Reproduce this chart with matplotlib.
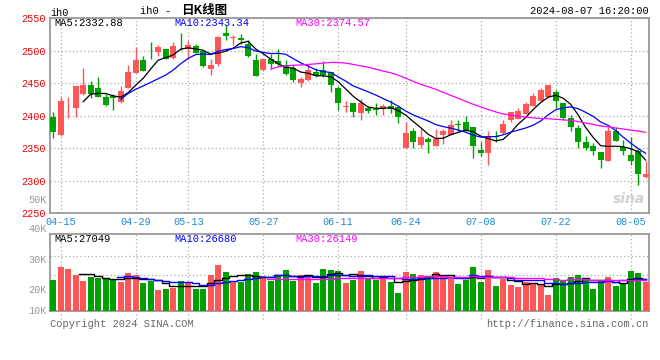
import numpy as np
import pandas as pd
import matplotlib
matplotlib.use("Agg")
import matplotlib.pyplot as plt

# daily bars of ih0, 2024-04-12 .. 2024-08-07 (80 trading days)
opens = [2398, 2371, 2416, 2412, 2434, 2447, 2443, 2429, 2430, 2421,
         2443, 2466, 2486, 2500, 2498, 2503, 2489, 2514, 2502, 2507,
         2499, 2472, 2479, 2527, 2520, 2520, 2511, 2486, 2470, 2487,
         2484, 2478, 2473, 2451, 2455, 2468, 2470, 2467, 2442, 2414,
         2419, 2404, 2412, 2410, 2410, 2415, 2413, 2351, 2377, 2355,
         2364, 2354, 2370, 2371, 2387, 2390, 2382, 2347, 2343, 2369,
         2373, 2393, 2395, 2403, 2415, 2423, 2429, 2436, 2420, 2396,
         2381, 2360, 2353, 2345, 2331, 2377, 2352, 2340, 2346, 2306]
highs = [2405, 2429, 2429, 2445, 2473, 2453, 2460, 2433, 2434, 2445,
         2478, 2506, 2492, 2514, 2509, 2503, 2514, 2528, 2515, 2511,
         2499, 2488, 2523, 2539, 2524, 2525, 2516, 2495, 2488, 2495,
         2502, 2485, 2478, 2459, 2480, 2473, 2484, 2467, 2445, 2422,
         2419, 2425, 2414, 2420, 2418, 2424, 2414, 2390, 2381, 2381,
         2368, 2379, 2379, 2393, 2393, 2400, 2382, 2360, 2376, 2376,
         2394, 2405, 2412, 2421, 2435, 2442, 2447, 2439, 2420, 2401,
         2386, 2369, 2358, 2345, 2382, 2382, 2362, 2368, 2349, 2330]
lows = [2366, 2369, 2397, 2398, 2432, 2428, 2429, 2415, 2409, 2419,
        2442, 2465, 2469, 2488, 2492, 2488, 2488, 2501, 2488, 2496,
        2475, 2463, 2477, 2516, 2509, 2511, 2490, 2461, 2469, 2474,
        2476, 2463, 2452, 2444, 2454, 2459, 2460, 2437, 2409, 2406,
        2398, 2393, 2404, 2401, 2401, 2404, 2389, 2351, 2350, 2350,
        2343, 2354, 2356, 2371, 2376, 2376, 2335, 2338, 2324, 2360,
        2372, 2391, 2395, 2403, 2415, 2423, 2427, 2412, 2394, 2376,
        2350, 2347, 2340, 2319, 2331, 2361, 2340, 2324, 2294, 2305]
closes = [2375, 2423, 2417, 2445, 2448, 2433, 2429, 2416, 2427, 2438,
          2468, 2486, 2469, 2499, 2505, 2488, 2507, 2513, 2509, 2497,
          2477, 2478, 2521, 2523, 2521, 2516, 2492, 2461, 2487, 2480,
          2480, 2464, 2455, 2457, 2471, 2461, 2463, 2448, 2419, 2415,
          2405, 2420, 2408, 2409, 2415, 2410, 2398, 2374, 2359, 2368,
          2359, 2365, 2376, 2386, 2386, 2376, 2353, 2343, 2367, 2368,
          2387, 2405, 2408, 2418, 2430, 2440, 2447, 2422, 2396, 2383,
          2359, 2350, 2346, 2332, 2377, 2361, 2346, 2330, 2311, 2311]
volumes = [26100, 37100, 35700, 30300, 25300, 28900, 27500, 27000, 25900, 24700,
           32000, 30300, 23600, 25600, 17700, 18800, 19700, 25300, 24200, 18800,
           18800, 30300, 38800, 32900, 25300, 24400, 31200, 32900, 29800, 25600,
           30300, 34600, 25600, 30300, 30300, 23600, 35400, 34800, 34000, 23900,
           26100, 34000, 27500, 26400, 27500, 24700, 15500, 33200, 31500, 30300,
           28700, 32900, 30300, 28100, 23000, 26400, 37400, 24700, 34800, 21100,
           27300, 21900, 20200, 24200, 23300, 23000, 13500, 28100, 25300, 28700,
           30300, 27300, 18800, 25900, 28900, 21100, 23600, 34000, 32300, 24200]

date_labels = ["04-15", "04-29", "05-13", "05-27", "06-11", "06-24", "07-08", "07-22", "08-05"]
date_index = [1, 11, 18, 28, 38, 47, 57, 67, 77]

price_ticks = [2250, 2300, 2350, 2400, 2450, 2500, 2550]
vol_labels = ["50K", "40K", "30K", "20K", "10K"]

RED = "#ff5757"
GREEN = "#00a000"
GRID = "#aaaaaa"
MONO = "Liberation Mono"

o = np.array(opens, float)
c = np.array(closes, float)
x = np.arange(len(c))
cols = np.where(c >= o, RED, GREEN)

fig = plt.figure(figsize=(6.6, 3.6), dpi=100)

def px(xp, yp):
    return xp / 660, 1 - yp / 360

ax = fig.add_axes([50 / 660, 1 - 213.3 / 360, 599 / 660, 195.1 / 360])
ax2 = fig.add_axes([50 / 660, 1 - 311 / 360, 599 / 660, 77 / 360])

# candles
ax.vlines(x, lows, highs, colors=cols, linewidth=1, zorder=3)
body_bot = np.minimum(o, c)
body_h = np.maximum(np.abs(c - o), 0.9)
ax.bar(x, body_h, bottom=body_bot, width=0.8, color=cols, linewidth=0, zorder=3)

s = pd.Series(c)
for n, col in [(5, "black"), (10, "#0000ff"), (30, "#ff00ff")]:
    ax.plot(x, s.rolling(n).mean(), color=col, linewidth=0.9, zorder=4)

ax.set_xlim(-0.43, 79.45)
ax.set_ylim(2250, 2550)
ax.set_yticks(price_ticks)
ax.set_yticklabels([str(t) for t in price_ticks], color="#ee0000", fontsize=7.3, fontfamily=MONO)
ax.set_xticks(date_index)
ax.set_xticklabels(date_labels, color="#1a8ad4", fontsize=7.3, fontfamily=MONO)
ax.tick_params(length=0, pad=3)
ax.grid(True, linestyle=(0, (1, 2)), color=GRID, linewidth=0.9)
ax.set_axisbelow(True)

# volume
vmax = 64900
ax2.bar(x, volumes, width=0.8, color=cols, linewidth=0, zorder=3)
vs = pd.Series(volumes, dtype=float)
for n, col in [(5, "black"), (10, "#0000ff"), (30, "#ff00ff")]:
    ax2.plot(x, vs.rolling(n).mean(), color=col, linewidth=1.0, drawstyle="steps-mid", zorder=4)
ax2.set_xlim(-0.43, 79.45)
ax2.set_ylim(0, vmax)
ax2.set_xticks(date_index)
ax2.set_xticklabels([])
ax2.set_yticks([])
ax2.tick_params(length=0)
ax2.grid(True, axis="x", linestyle=(0, (1, 2)), color=GRID, linewidth=0.9)
for f in [0.195, 0.468, 0.714]:
    ax2.axhline(f * vmax, linestyle=(0, (1, 2)), color=GRID, linewidth=0.9, zorder=1)
ax2.vlines(date_index, -0.1 * vmax, 0, linestyles=(0, (1, 2)), colors=GRID, linewidth=0.9, clip_on=False)
ax2.set_axisbelow(True)

for a in (ax, ax2):
    for sp in a.spines.values():
        sp.set_color("#999999")
        sp.set_linewidth(1.3)

# volume axis labels (sina draws them at fixed spots)
for lab, yp in zip(vol_labels, [200, 229, 260, 290, 311]):
    fig.text(*px(47, yp), lab, ha="right", va="center", color="#999999", fontsize=7.3, fontfamily=MONO)

# header texts
fig.text(*px(50, 12.5), "ih0", ha="left", va="center", fontsize=7.3, fontfamily=MONO, color="black")
fig.text(*px(140, 11), "ih0 -", ha="left", va="center", fontsize=7.5, fontfamily=MONO, color="black")
fig.text(*px(181, 10.5), "日K线图", ha="left", va="center", fontsize=9, fontweight="bold",
         family=["Noto Sans CJK SC", "DejaVu Sans"], color="black")
fig.text(*px(649, 11.5), "2024-08-07 16:20:00", ha="right", va="center", fontsize=7.5, fontfamily=MONO)

fig.text(*px(54, 23.5), "MA5:2332.88", ha="left", va="center", fontsize=7.5, fontfamily=MONO, color="black")
fig.text(*px(174, 23.5), "MA10:2343.34", ha="left", va="center", fontsize=7.5, fontfamily=MONO, color="#0000ff")
fig.text(*px(295, 23.5), "MA30:2374.57", ha="left", va="center", fontsize=7.5, fontfamily=MONO, color="#ff00ff")

fig.text(*px(54, 238.5), "MA5:27049", ha="left", va="center", fontsize=7.5, fontfamily=MONO, color="black")
fig.text(*px(174, 238.5), "MA10:26680", ha="left", va="center", fontsize=7.5, fontfamily=MONO, color="#0000ff")
fig.text(*px(295, 238.5), "MA30:26149", ha="left", va="center", fontsize=7.5, fontfamily=MONO, color="#ff00ff")

fig.text(*px(50, 324), "Copyright 2024 SINA.COM", ha="left", va="center", fontsize=7.5, fontfamily=MONO, color="#666666")
fig.text(*px(649, 324), "http://finance.sina.com.cn", ha="right", va="center", fontsize=7.5, fontfamily=MONO, color="#666666")

# faint watermark
fig.text(*px(629, 199), "sina", ha="center", va="center", fontsize=10, fontweight="bold",
         style="italic", color="#d0d0d0", zorder=0)

fig.savefig("out.png", dpi=100)
